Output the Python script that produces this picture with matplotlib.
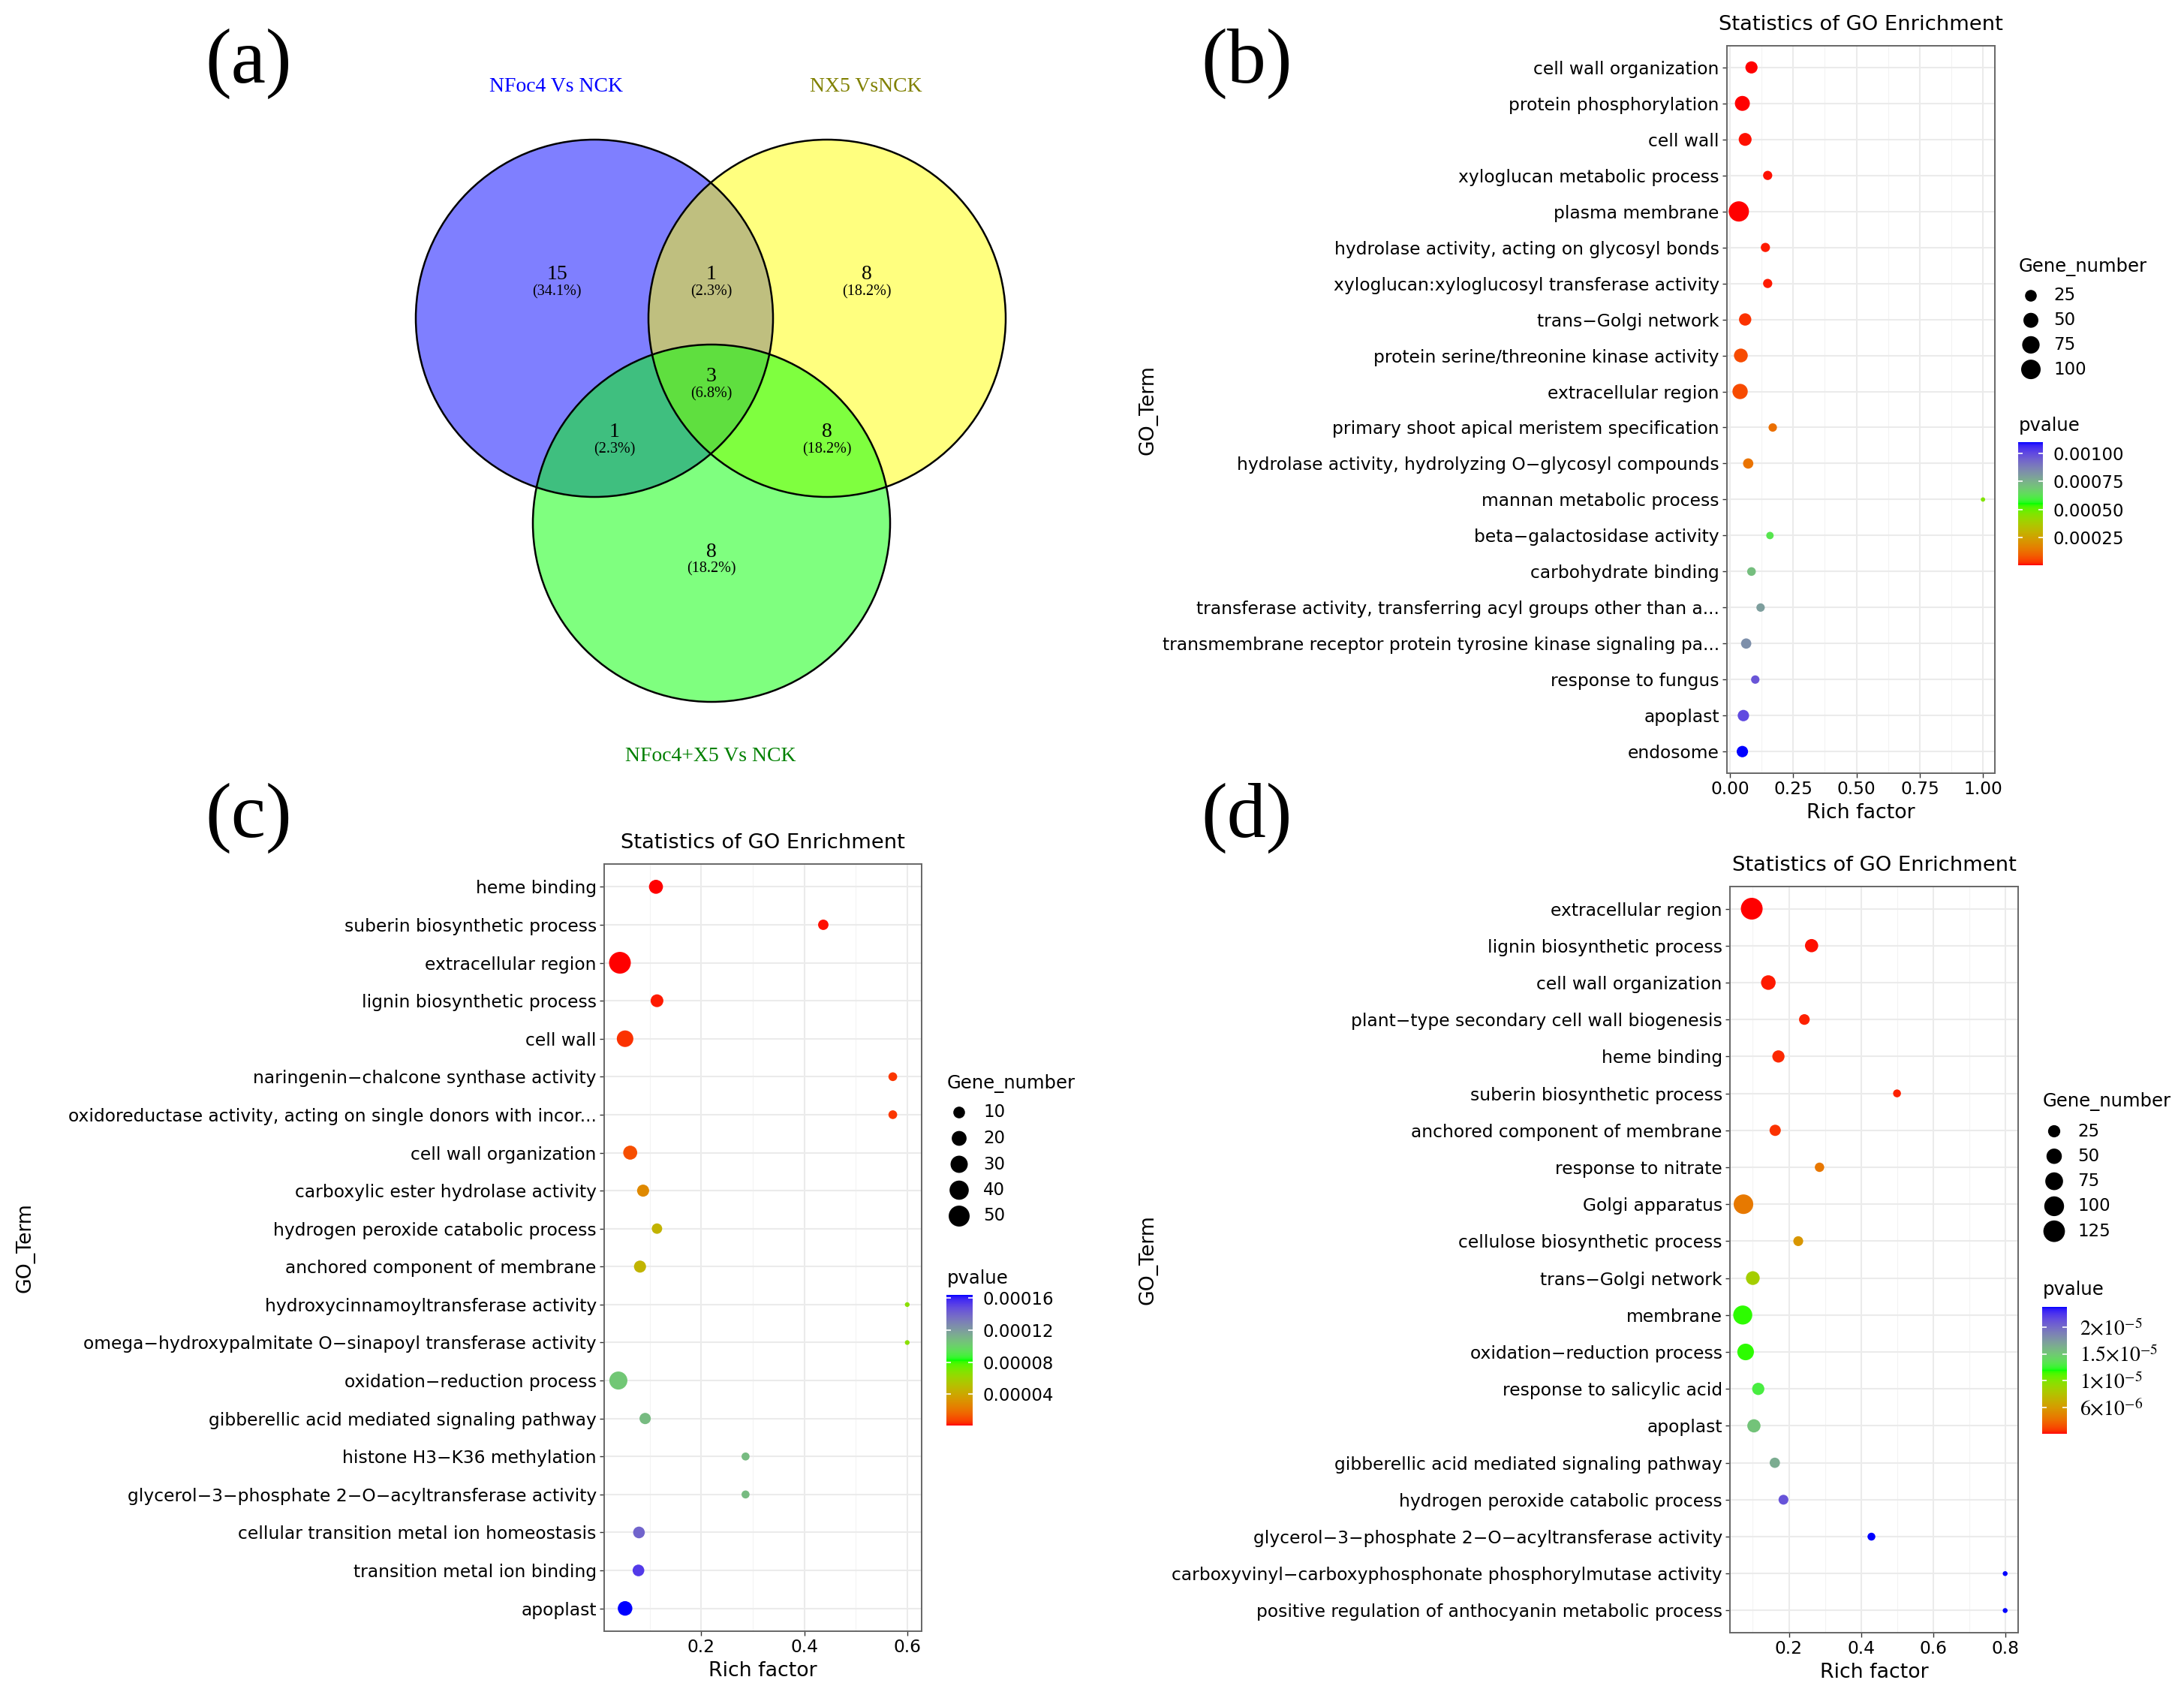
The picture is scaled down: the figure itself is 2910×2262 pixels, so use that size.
import numpy as np
import matplotlib
matplotlib.use("Agg")
import matplotlib.pyplot as plt
from matplotlib.colors import ListedColormap, Normalize
from matplotlib.patches import Circle

W, H, DPI = 2910, 2262, 100
PT = 72.0 / DPI  # points per pixel

plt.rcParams['font.family'] = ['DejaVu Sans']
plt.rcParams['mathtext.fontset'] = 'stix'
SERIF = ['Liberation Serif', 'DejaVu Serif']

# ---------------- data : (a) Venn ----------------
venn_sets = ["NFoc4 Vs NCK", "NX5 VsNCK", "NFoc4+X5 Vs NCK"]
venn_set_colors = ["#0000FF", "#FFFF00", "#00FF00"]
venn_label_colors = ["#0000FF", "#808000", "#008000"]
venn_regions = ["A", "AB", "B", "ABC", "AC", "BC", "C"]
venn_counts = [15, 1, 8, 3, 1, 8, 8]

# ---------------- data : (b) ----------------
b_terms = ["cell wall organization", "protein phosphorylation", "cell wall",
           "xyloglucan metabolic process", "plasma membrane",
           "hydrolase activity, acting on glycosyl bonds",
           "xyloglucan:xyloglucosyl transferase activity", "trans\u2212Golgi network",
           "protein serine/threonine kinase activity", "extracellular region",
           "primary shoot apical meristem specification",
           "hydrolase activity, hydrolyzing O\u2212glycosyl compounds",
           "mannan metabolic process", "beta\u2212galactosidase activity",
           "carbohydrate binding",
           "transferase activity, transferring acyl groups other than a...",
           "transmembrane receptor protein tyrosine kinase signaling pa...",
           "response to fungus", "apoplast", "endosome"]
b_rich = [0.085, 0.049, 0.060, 0.149, 0.035, 0.140, 0.149, 0.060, 0.043, 0.040,
          0.169, 0.072, 1.000, 0.158, 0.085, 0.121, 0.064, 0.100, 0.053, 0.049]
b_genes = [28, 50, 33, 12, 110, 12, 12, 29, 40, 53, 9, 17, 2, 6, 10, 9, 17, 9, 23, 23]
b_pval = [4.0e-6, 6.0e-6, 8.0e-6, 9.0e-6, 2.0e-6, 1.2e-5, 1.3e-5, 3.2e-5, 5.8e-5, 6.2e-5,
          1.23e-4, 1.34e-4, 4.58e-4, 6.17e-4, 7.16e-4, 7.98e-4, 8.37e-4, 9.74e-4, 1.0e-3, 1.1e-3]
b_xticks = [0.0, 0.25, 0.5, 0.75, 1.0]
b_xticklabels = ["0.00", "0.25", "0.50", "0.75", "1.00"]
b_size_breaks = [25, 50, 75, 100]
b_p_breaks = [0.001, 0.00075, 0.0005, 0.00025]
b_p_labels = ["0.00100", "0.00075", "0.00050", "0.00025"]

# ---------------- data : (c) ----------------
c_terms = ["heme binding", "suberin biosynthetic process", "extracellular region",
           "lignin biosynthetic process", "cell wall",
           "naringenin\u2212chalcone synthase activity",
           "oxidoreductase activity, acting on single donors with incor...",
           "cell wall organization", "carboxylic ester hydrolase activity",
           "hydrogen peroxide catabolic process", "anchored component of membrane",
           "hydroxycinnamoyltransferase activity",
           "omega\u2212hydroxypalmitate O\u2212sinapoyl transferase activity",
           "oxidation\u2212reduction process",
           "gibberellic acid mediated signaling pathway",
           "histone H3\u2212K36 methylation",
           "glycerol\u22123\u2212phosphate 2\u2212O\u2212acyltransferase activity",
           "cellular transition metal ion homeostasis",
           "transition metal ion binding", "apoplast"]
c_rich = [0.112, 0.437, 0.042, 0.114, 0.052, 0.572, 0.572, 0.062, 0.087, 0.114,
          0.081, 0.600, 0.600, 0.039, 0.091, 0.286, 0.286, 0.079, 0.078, 0.052]
c_genes = [17, 7, 55, 13, 27, 4, 4, 17, 11, 7, 11, 1, 1, 34, 9, 3, 3, 10, 10, 19]
c_pval = [1.0e-6, 2.0e-6, 1.5e-6, 2.5e-6, 5.0e-6, 6.0e-6, 6.0e-6, 1.0e-5, 2.8e-5, 4.5e-5,
          4.6e-5, 6.6e-5, 6.6e-5, 1.04e-4, 1.08e-4, 1.08e-4, 1.08e-4, 1.40e-4, 1.53e-4, 1.638e-4]
c_xticks = [0.2, 0.4, 0.6]
c_xticklabels = ["0.2", "0.4", "0.6"]
c_size_breaks = [10, 20, 30, 40, 50]
c_p_breaks = [0.00016, 0.00012, 0.00008, 0.00004]
c_p_labels = ["0.00016", "0.00012", "0.00008", "0.00004"]

# ---------------- data : (d) ----------------
d_terms = ["extracellular region", "lignin biosynthetic process", "cell wall organization",
           "plant\u2212type secondary cell wall biogenesis", "heme binding",
           "suberin biosynthetic process", "anchored component of membrane",
           "response to nitrate", "Golgi apparatus", "cellulose biosynthetic process",
           "trans\u2212Golgi network", "membrane", "oxidation\u2212reduction process",
           "response to salicylic acid", "apoplast",
           "gibberellic acid mediated signaling pathway",
           "hydrogen peroxide catabolic process",
           "glycerol\u22123\u2212phosphate 2\u2212O\u2212acyltransferase activity",
           "carboxyvinyl\u2212carboxyphosphonate phosphorylmutase activity",
           "positive regulation of anthocyanin metabolic process"]
d_rich = [0.097, 0.263, 0.143, 0.243, 0.171, 0.500, 0.162, 0.285, 0.074, 0.226,
          0.100, 0.072, 0.080, 0.115, 0.103, 0.161, 0.185, 0.429, 0.800, 0.800]
d_genes = [128, 32, 43, 16, 25, 5, 19, 10, 97, 12, 36, 90, 62, 25, 32, 14, 12, 5, 1, 1]
d_pval = [1e-7, 2e-7, 3e-7, 4e-7, 5e-7, 4e-7, 7e-7, 3.1e-6, 3.2e-6, 4.8e-6,
          8.4e-6, 1.17e-5, 1.17e-5, 1.29e-5, 1.52e-5, 1.65e-5, 2.12e-5, 2.38e-5, 2.38e-5, 2.38e-5]
d_xticks = [0.2, 0.4, 0.6, 0.8]
d_xticklabels = ["0.2", "0.4", "0.6", "0.8"]
d_size_breaks = [25, 50, 75, 100, 125]
d_p_breaks = [2e-5, 1.5e-5, 1e-5, 5e-6]
d_p_labels = [r"$2{\times}10^{-5}$", r"$1.5{\times}10^{-5}$", r"$1{\times}10^{-5}$",
              r"$6{\times}10^{-6}$"]


# ---------------- helpers ----------------
def rect(l, t, r, b):
    return [l / W, 1 - b / H, (r - l) / W, (b - t) / H]


_M = np.array([[0.4124564, 0.3575761, 0.1804375],
               [0.2126729, 0.7151522, 0.0721750],
               [0.0193339, 0.1191920, 0.9503041]])
_WHITE = np.array([0.95047, 1.0, 1.08883])


def srgb_to_lab(rgb):
    rgb = np.asarray(rgb, float)
    lin = np.where(rgb <= 0.04045, rgb / 12.92, ((rgb + 0.055) / 1.055) ** 2.4)
    xyz = _M @ lin / _WHITE
    d = 6 / 29
    f = np.where(xyz > d ** 3, np.cbrt(xyz), xyz / (3 * d * d) + 4 / 29)
    return np.array([116 * f[1] - 16, 500 * (f[0] - f[1]), 200 * (f[1] - f[2])])


def lab_to_srgb(lab):
    L, a, b = lab
    fy = (L + 16) / 116
    f = np.array([fy + a / 500, fy, fy - b / 200])
    d = 6 / 29
    xyz = np.where(f > d, f ** 3, 3 * d * d * (f - 4 / 29)) * _WHITE
    lin = np.clip(np.linalg.inv(_M) @ xyz, 0, 1)
    rgb = np.where(lin <= 0.0031308, 12.92 * lin, 1.055 * lin ** (1 / 2.4) - 0.055)
    return np.clip(rgb, 0, 1)


def lab_ramp(cols, n=256):
    labs = [srgb_to_lab(c) for c in cols]
    out = []
    k = len(cols) - 1
    for t in np.linspace(0, 1, n):
        i = min(int(t * k), k - 1)
        u = t * k - i
        out.append(lab_to_srgb(labs[i] * (1 - u) + labs[i + 1] * u))
    return ListedColormap(out)


CMAP = lab_ramp([(1, 0, 0), (0, 1, 0), (0, 0, 1)])


def size_px(g, gmin, gmax, dmin, dmax):
    g = np.asarray(g, float)
    return dmin + (dmax - dmin) * np.sqrt(np.clip((g - gmin) / (gmax - gmin), 0, None))


fig = plt.figure(figsize=(W / DPI, H / DPI), dpi=DPI)
fig.patch.set_facecolor("white")

ov = fig.add_axes([0, 0, 1, 1])
ov.set_xlim(0, W)
ov.set_ylim(H, 0)
ov.axis("off")

# ---------------- (a) Venn ----------------
centers = [(792, 424), (1102, 424), (948, 697)]
R = 238
for (cx, cy), col in zip(centers, venn_set_colors):
    ov.add_patch(Circle((cx, cy), R, facecolor=col, alpha=0.5, edgecolor="none", zorder=1))
for (cx, cy) in centers:
    ov.add_patch(Circle((cx, cy), R, fill=False, edgecolor="black", lw=1.8, zorder=2))

set_label_xy = [(741, 116), (1154, 116), (947, 1007)]
for name, col, (x, y) in zip(venn_sets, venn_label_colors, set_label_xy):
    ov.text(x, y, name, color=col, family=SERIF, fontsize=20, ha="center", va="center")

region_xy = {"A": (742, 366), "AB": (948, 366), "B": (1155, 366), "ABC": (948, 502),
             "AC": (819, 576), "BC": (1102, 576), "C": (948, 735)}
total = sum(venn_counts)
for reg, cnt in zip(venn_regions, venn_counts):
    x, y = region_xy[reg]
    ov.text(x, y, str(cnt), family=SERIF, fontsize=20, ha="center", va="center", zorder=3)
    ov.text(x, y + 23, "(%.1f%%)" % (100.0 * cnt / total), family=SERIF, fontsize=14.5,
            ha="center", va="center", zorder=3)

for lab, (x, y) in zip(["(a)", "(b)", "(c)", "(d)"],
                       [(331, 85), (1661, 85), (331, 1090), (1661, 1090)]):
    ov.text(x, y, lab, family=SERIF, fontsize=75, ha="center", va="center")


# ---------------- dot panels ----------------
def dot_panel(box, terms, rich, genes, pval, xlim, xticks, xticklabels, xminor,
              drange, size_breaks, p_breaks, p_labels, leg, cbar_box, p_title_xy,
              p_label_kw):
    l, t, r, b = box
    ax = fig.add_axes(rect(l, t, r, b))
    n = len(terms)
    ypos = np.arange(n)[::-1]
    gmin, gmax = min(genes), max(genes)
    d = size_px(genes, gmin, gmax, *drange)
    norm = Normalize(min(pval), max(pval))
    sc = ax.scatter(rich, ypos, s=(d * PT) ** 2, c=pval, cmap=CMAP, norm=norm,
                    edgecolors="none", zorder=3)
    ax.set_xlim(*xlim)
    ax.set_ylim(-0.6, n - 0.4)
    ax.set_yticks(ypos)
    ax.set_yticklabels(terms)
    ax.set_xticks(xticks)
    ax.set_xticklabels(xticklabels)
    ax.set_xticks(xminor, minor=True)
    ax.set_axisbelow(True)
    ax.grid(which="major", color="#EBEBEB", lw=1.5)
    ax.grid(which="minor", axis="x", color="#F3F3F3", lw=0.8)
    ax.tick_params(which="minor", length=0)
    ax.tick_params(which="major", length=4.3, width=1.0, color="#333333",
                   labelsize=16.8, labelcolor="black", pad=3)
    for s in ax.spines.values():
        s.set_color("#666666")
        s.set_linewidth(1.4)
    cx = (l + r) / 2
    fig.text(cx / W, 1 - (t - 28) / H, "Statistics of GO Enrichment", fontsize=19.7,
             ha="center", va="center")
    fig.text(cx / W, 1 - (b + 53) / H, "Rich factor", fontsize=19.3, ha="center", va="center")
    # legend for size
    lx, ly, dx, tx, dy = leg
    ov.text(lx, ly, "Gene_number", fontsize=17.5, ha="left", va="center")
    ds = size_px(size_breaks, gmin, gmax, *drange)
    for i, (v, dd) in enumerate(zip(size_breaks, ds)):
        yy = ly + 39 + i * dy
        ov.scatter([dx], [yy], s=(dd * PT) ** 2, color="black", edgecolors="none")
        ov.text(tx, yy, str(v), fontsize=16.5, ha="left", va="center")
    # colorbar
    cax = fig.add_axes(rect(*cbar_box))
    cb = fig.colorbar(sc, cax=cax)
    cb.outline.set_visible(False)
    cb.set_ticks(p_breaks)
    cb.set_ticklabels(p_labels)
    kw = dict(pad=9.5)
    kw.update(p_label_kw)
    cax.tick_params(left=True, right=True, direction="in", color="white", width=1.2,
                    length=4.5, labelcolor="black", **kw)
    ov.text(p_title_xy[0], p_title_xy[1], "pvalue", fontsize=17.5, ha="left", va="center")
    return ax


ax_b = dot_panel((2301, 61, 2658, 1030), b_terms, b_rich, b_genes, b_pval,
                 (-0.012, 1.047), b_xticks, b_xticklabels, [0.125, 0.375, 0.625, 0.875],
                 (5.8, 27.0), b_size_breaks, b_p_breaks, b_p_labels,
                 (2690, 355, 2706, 2736, 32.7), (2689, 589, 2722, 753), (2690, 567),
                 dict(labelsize=16.5))
ax_c = dot_panel((805, 1151, 1228, 2173), c_terms, c_rich, c_genes, c_pval,
                 (0.0114, 0.628), c_xticks, c_xticklabels, [0.1, 0.3, 0.5],
                 (6.3, 29.0), c_size_breaks, c_p_breaks, c_p_labels,
                 (1262, 1443, 1278, 1310, 34.5), (1261, 1725, 1296, 1899), (1262, 1703),
                 dict(labelsize=16.5))
ax_d = dot_panel((2305, 1181, 2689, 2175), d_terms, d_rich, d_genes, d_pval,
                 (0.0365, 0.836), d_xticks, d_xticklabels, [0.1, 0.3, 0.5, 0.7],
                 (6.5, 29.0), d_size_breaks, d_p_breaks, d_p_labels,
                 (2722, 1468, 2737, 2768, 33.3), (2721, 1741, 2754, 1910), (2722, 1718),
                 dict(labelsize=20, pad=12))

for x, y in [(1529, 546), (33, 1662), (1529, 1678)]:
    fig.text(x / W, 1 - y / H, "GO_Term", fontsize=19.3, rotation=90, ha="center", va="center")

fig.savefig("out.png", dpi=DPI, facecolor="white")
